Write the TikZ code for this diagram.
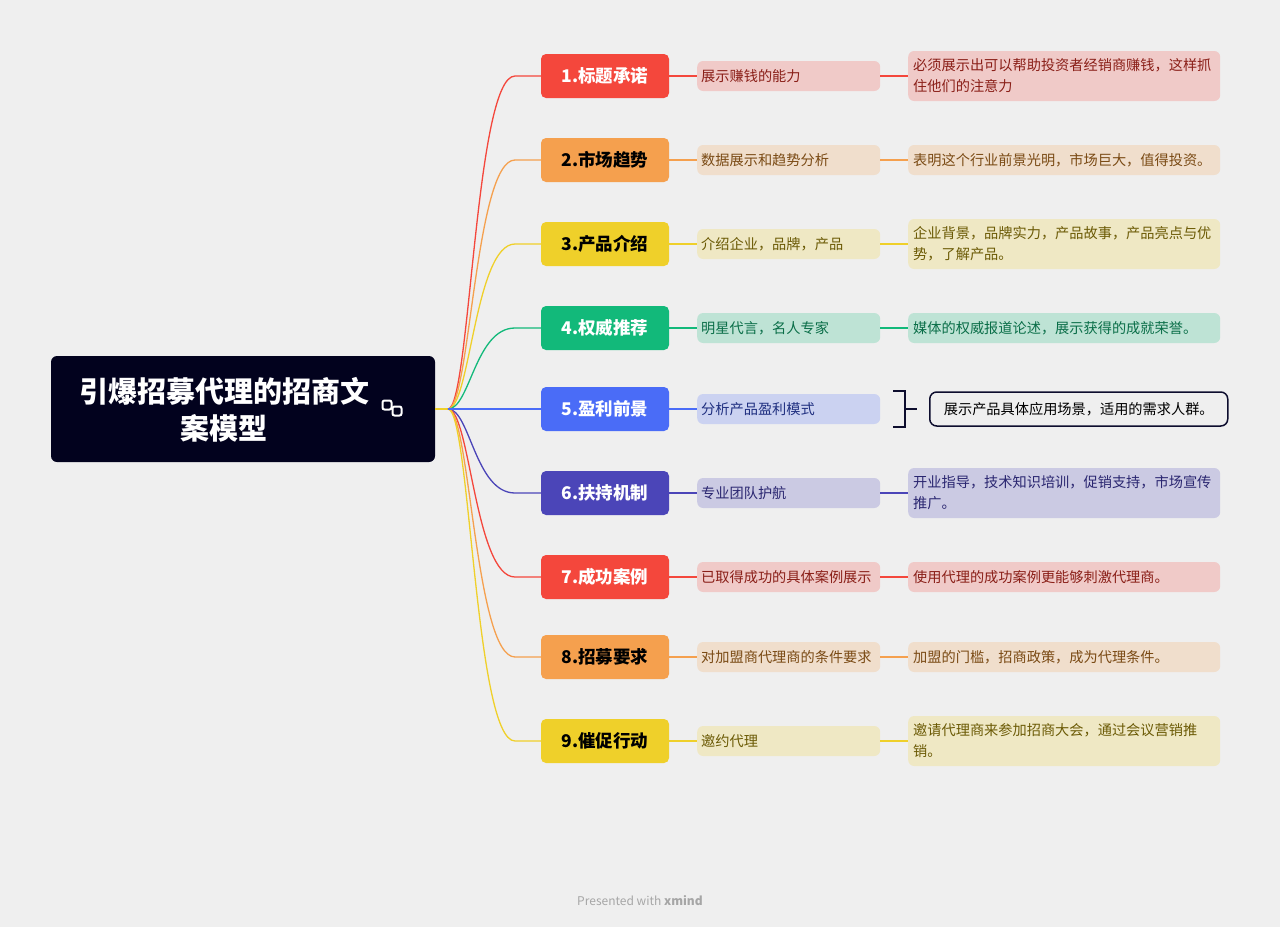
\documentclass[tikz,border=0pt]{standalone}
\usepackage{fontspec}
\setmainfont{Noto Sans CJK SC}
\begin{document}
\begin{tikzpicture}[x=1pt,y=-1pt,
 br/.style={rounded corners=5pt,minimum width=128pt,minimum height=44pt,inner sep=0pt,font=\fontsize{17.5}{20}\selectfont\bfseries},
 s1/.style={rounded corners=6pt,minimum width=183pt,minimum height=30pt,inner sep=0pt,anchor=west,font=\fontsize{14.2}{16}\selectfont,text width=175pt,align=left},
 s2/.style={rounded corners=6pt,minimum width=312pt,minimum height=30pt,inner sep=0pt,anchor=west,font=\fontsize{14.2}{21}\selectfont,text width=302pt,align=left},
 ln/.style={line width=1.3pt}]
\definecolor{bg}{HTML}{EFEFEF}\definecolor{navy}{HTML}{02021E}\definecolor{dk}{HTML}{0D0D2E}
\definecolor{cR}{HTML}{F4473C}\definecolor{cO}{HTML}{F5A04E}\definecolor{cY}{HTML}{EFD02A}
\definecolor{cG}{HTML}{12B97A}\definecolor{cB}{HTML}{4A6CF7}\definecolor{cP}{HTML}{4B45B8}
\definecolor{tR}{HTML}{8A1F18}\definecolor{tO}{HTML}{7A4A14}\definecolor{tY}{HTML}{6B5A05}
\definecolor{tG}{HTML}{0A6E48}\definecolor{tB}{HTML}{1F2F80}\definecolor{tP}{HTML}{2A2670}
\fill[bg] (0,0) rectangle (1280,927);
\useasboundingbox (0,0) rectangle (1280,927);
\node[fill=navy,rounded corners=6pt,minimum width=384pt,minimum height=106pt] (root) at (243,409) {};
\node[text=white,font=\fontsize{29}{37}\selectfont\bfseries,align=center] (rt) at (224,410) {引爆招募代理的招商文\\案模型};
\node[draw=white,line width=2pt,rounded corners=2pt,minimum size=9pt,inner sep=0pt] (ic1) at (387,405) {};
\node[draw=white,line width=2pt,rounded corners=2pt,minimum size=9pt,inner sep=0pt] (ic2) at (397,411) {};
\coordinate (hub) at (448,409);
\draw[cY,ln] (root.east) -- (hub);
\foreach \i/\y/\c/\t/\tc/\a/\b/\h in {
1/76/cR/white/tR/展示赚钱的能力/{必须展示出可以帮助投资者经销商赚钱，这样抓\\住他们的注意力}/50,
2/160/cO/black/tO/数据展示和趋势分析/{表明这个行业前景光明，市场巨大，值得投资。}/30,
3/244/cY/black/tY/{介绍企业，品牌，产品}/{企业背景，品牌实力，产品故事，产品亮点与优\\势，了解产品。}/50,
4/328/cG/white/tG/{明星代言，名人专家}/{媒体的权威报道论述，展示获得的成就荣誉。}/30,
6/493/cP/white/tP/专业团队护航/{开业指导，技术知识培训，促销支持，市场宣传\\推广。}/50,
7/577/cR/white/tR/已取得成功的具体案例展示/{使用代理的成功案例更能够刺激代理商。}/30,
8/657/cO/black/tO/对加盟商代理商的条件要求/{加盟的门槛，招商政策，成为代理条件。}/30,
9/741/cY/black/tY/邀约代理/{邀请代理商来参加招商大会，通过会议营销推\\销。}/50}{
 \node[br,fill=\c,text=\t] (b\i) at (605,\y) {\i.\ifcase\i\or 标题承诺\or 市场趋势\or 产品介绍\or 权威推荐\or\or 扶持机制\or 成功案例\or 招募要求\or 催促行动\fi};
 \node[s1,fill=\c!22!bg,text=\tc] (p\i) at (697,\y) {\a};
 \node[s2,fill=\c!22!bg,text=\tc,minimum height=\h pt] (q\i) at (908,\y) {\b};
 \draw[\c,ln] (hub) .. controls (470,409) and (475,\y) .. (515,\y) -- (b\i.west);
 \draw[\c,ln] (b\i.east) -- (p\i.west);
 \draw[\c,ln] (p\i.east) -- (q\i.west);
}
\node[br,fill=cB,text=white] (b5) at (605,409) {5.盈利前景};
\node[s1,fill=cB!22!bg,text=tB] (p5) at (697,409) {分析产品盈利模式};
\draw[cB,ln] (hub) -- (b5.west);
\draw[cB,ln] (b5.east) -- (p5.west);
\node[draw=dk,line width=1.5pt,rounded corners=7pt,minimum width=298pt,minimum height=34pt,fill=bg,font=\fontsize{14.2}{16}\selectfont,anchor=west] (q5) at (929,409) {展示产品具体应用场景，适用的需求人群。};
\coordinate (k1) at (893,391);\coordinate (k2) at (893,427);\coordinate (km) at (905,409);
\draw[dk,line width=1.5pt] (k1) -| (km) |- (k2) (km) -- (917,409);
\node[text=gray!70,font=\fontsize{12}{14}\selectfont] (ft) at (640,901) {Presented with \textbf{xmind}};
\end{tikzpicture}
\end{document}
